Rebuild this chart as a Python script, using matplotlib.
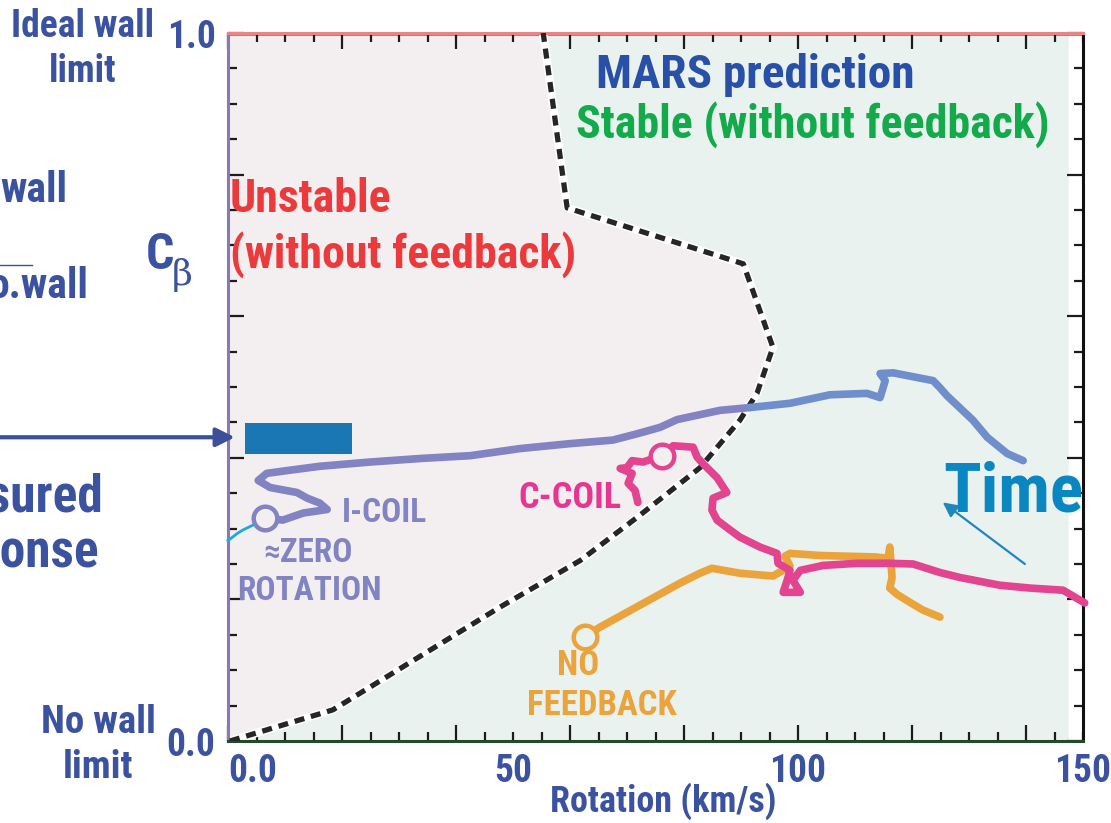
import os
import matplotlib
matplotlib.use('Agg')
import matplotlib.pyplot as plt
import numpy as np
from matplotlib import font_manager
from matplotlib.font_manager import FontProperties
from matplotlib.patches import Rectangle
from matplotlib.textpath import TextPath

# --- data (rotation km/s, C_beta) ---
# MARS stability boundary
bnd_x = [0.35, 18.4, 26.1, 47.7, 61.8, 71.8, 82.8, 89.8, 92.8, 95.6, 90.4, 59.5, 55.3]
bnd_y = [0.0, 0.044, 0.082, 0.189, 0.255, 0.316, 0.386, 0.453, 0.491, 0.556, 0.674, 0.753, 1.0]

# I-coil feedback discharge
icoil_x = [6.5, 9.6, 13.2, 17.4, 16.1, 13.9, 12.1, 7.4, 5.3, 6.8, 10.4, 16.1, 24.9, 33.7, 42.5,
           51.2, 60.0, 67.5, 71.8, 75.8, 78.8, 86.3, 91.6,
           98.6, 105.6, 112.1, 114.4, 115.3, 114.4, 116.7, 123.7, 124.9, 126.1, 130.7, 133.2,
           136.7, 139.5]
icoil_y = [0.315, 0.312, 0.322, 0.327, 0.336, 0.343, 0.351, 0.358, 0.368, 0.378, 0.382, 0.388,
           0.394, 0.399, 0.403, 0.413, 0.420, 0.425, 0.434, 0.443, 0.454, 0.467, 0.471,
           0.477, 0.489, 0.491, 0.485, 0.509, 0.519, 0.520, 0.509, 0.499, 0.488, 0.453, 0.429,
           0.406, 0.396]
icoil_split = 23  # colour changes here

# C-coil feedback discharge
ccoil_x = [71.9, 71.4, 70.2, 70.9, 68.8, 70.0, 70.9, 72.8, 76.1, 78.1, 81.6, 82.3, 83.3, 85.8,
           87.5, 85.1, 84.9, 85.8, 88.1, 89.8, 93.3, 96.3, 96.5, 98.6, 98.1, 97.4, 100.4, 99.1,
           100.4, 104.4, 110.4, 116.1, 120.2, 124.9, 128.4, 135.4, 140.7, 146.5, 150.3]
ccoil_y = [0.337, 0.354, 0.364, 0.378, 0.385, 0.386, 0.396, 0.394, 0.403, 0.417, 0.415, 0.401,
           0.392, 0.372, 0.351, 0.343, 0.326, 0.312, 0.298, 0.288, 0.274, 0.265, 0.251, 0.241,
           0.227, 0.210, 0.210, 0.227, 0.241, 0.248, 0.251, 0.251, 0.250, 0.238, 0.231, 0.220,
           0.216, 0.213, 0.195]
ccoil_mark = (76.1, 0.403)

# no feedback discharge
nofb_x = [62.6, 65.3, 72.3, 79.3, 82.8, 84.9, 89.8, 95.6, 98.6, 97.7, 98.6, 103.9, 113.5, 115.8,
          116.1, 116.5, 116.1, 117.4, 119.6, 121.9, 124.9]
nofb_y = [0.147, 0.161, 0.192, 0.223, 0.237, 0.244, 0.237, 0.233, 0.247, 0.261, 0.265, 0.262,
          0.260, 0.258, 0.274, 0.231, 0.216, 0.207, 0.196, 0.185, 0.175]

# measured response bar and small cyan trace
meas_level = 0.429
meas_bar_x = (3.0, 21.8)
meas_bar_y = (0.406, 0.449)
cyan_x = [0.0, 1.6, 2.6, 4.4]
cyan_y = [0.283, 0.293, 0.298, 0.305]

# time arrow (tail -> head)
time_tail = (139.8, 0.250)
time_head = (125.4, 0.337)

stable_xmax = 147.4
xlab_vals = [0, 50, 100, 150]
xlab_text = ['0.0', '50', '100', '150']
ylab_vals = [0, 1]
ylab_text = ['0.0', '1.0']

NAVY = '#3B52A0'
PINK_BG = '#F3EFF1'
GREEN_BG = '#E9F2EF'
C_ICOIL = '#8283C2'
C_ICOIL2 = '#6F8FCC'
C_CCOIL = '#E2448F'
C_NOFB = '#EBA33B'


# --- a narrow bold face if one is installed ---
def find_narrow():
    prefs = ['liberationsansnarrow-bold.', 'notosans-condensedbold.', 'robotocondensed-bold.',
             'opensans-condbold.', 'opensanscondensed-bold.', 'dejavusanscondensed-bold.']
    files = [f.fname for f in font_manager.fontManager.ttflist]
    try:
        files += font_manager.findSystemFonts()
    except Exception:
        pass
    for p in prefs:
        for f in files:
            if os.path.basename(f).lower().replace(' ', '').startswith(p):
                return f
    return None


path = find_narrow()
if path:
    BASE = FontProperties(fname=path)
else:
    BASE = FontProperties(family='Liberation Sans', weight='bold')

# calibrate size so that text widths match the reference
probe = TextPath((0, 0), '(without feedback)', size=33, prop=BASE).get_extents().width * 100 / 72
SCALE = min(1.0, 346 / probe)


def fp(size):
    p = BASE.copy()
    p.set_size(size * SCALE)
    return p


W, H = 1111, 823
fig = plt.figure(figsize=(W / 100, H / 100), dpi=100)
ax = fig.add_axes([228 / W, 1 - 741 / H, (1083 - 228) / W, (741 - 33) / H])
ax.set_xlim(0, 150)
ax.set_ylim(0, 1)


def ftext(px, py, s, size, **kw):
    fig.text(px / W, 1 - py / H, s, fontproperties=fp(size), va='baseline', **kw)


# regions
ax.fill_betweenx(bnd_y, 0, bnd_x, color=PINK_BG, lw=0, zorder=0)
ax.fill_betweenx(bnd_y, bnd_x, stable_xmax, color=GREEN_BG, lw=0, zorder=0)

# boundary
ax.plot(bnd_x, bnd_y, color='white', lw=6, zorder=2)
ax.plot(bnd_x, bnd_y, color='#262626', lw=3.8, dashes=(1.9, 1.3), zorder=3)

# trajectories
kw = dict(lw=5.5, solid_capstyle='round', solid_joinstyle='round', zorder=4)
ax.plot(icoil_x[:icoil_split], icoil_y[:icoil_split], color=C_ICOIL, **kw)
ax.plot(icoil_x[icoil_split - 1:], icoil_y[icoil_split - 1:], color=C_ICOIL2, **kw)
ax.plot(nofb_x, nofb_y, color=C_NOFB, **kw)
ax.plot(ccoil_x, ccoil_y, color=C_CCOIL, clip_on=False, **kw)

mk = dict(marker='o', ms=17, mew=3.2, zorder=5, ls='none')
ax.plot(icoil_x[0], icoil_y[0], mfc=PINK_BG, mec=C_ICOIL, **mk)
ax.plot(*ccoil_mark, mfc=PINK_BG, mec=C_CCOIL, **mk)
ax.plot(nofb_x[0], nofb_y[0], mfc=GREEN_BG, mec=C_NOFB, **mk)

ax.plot(cyan_x, cyan_y, color='#1BA9E1', lw=2, zorder=4, clip_on=False)
ax.add_patch(Rectangle((meas_bar_x[0], meas_bar_y[0]), meas_bar_x[1] - meas_bar_x[0],
                       meas_bar_y[1] - meas_bar_y[0], color='#1B77B3', lw=0, zorder=4))

ax.annotate('', xy=(1.2, meas_level), xycoords='data', xytext=(0, meas_level),
            textcoords=('figure fraction', 'data'), annotation_clip=False,
            arrowprops=dict(arrowstyle='-|>', color='#3B4F9A', lw=3, mutation_scale=28,
                            shrinkA=0, shrinkB=0))
ax.annotate('', xy=time_head, xytext=time_tail,
            arrowprops=dict(arrowstyle='-|>', color='#1F86BE', lw=1.6, mutation_scale=22,
                            shrinkA=0, shrinkB=0), zorder=6)

# spines / ticks
for s, c in [('left', '#8A78B0'), ('bottom', '#234A30'), ('right', '#111111'), ('top', '#E98585')]:
    ax.spines[s].set_color(c)
    ax.spines[s].set_linewidth(2.2)
ax.axhline(0.997, color='#9A84C0', lw=1.5, zorder=1)

ax.set_xticks(np.arange(0, 151, 20))
ax.set_xticks(np.arange(0, 151, 5), minor=True)
ax.set_yticks(np.arange(0, 1.001, 0.2))
ax.set_yticks(np.arange(0, 1.001, 0.05), minor=True)
ax.set_xticklabels([])
ax.set_yticklabels([])
ax.tick_params(which='both', direction='in', top=True, right=True, width=1.6, color='#1c1c1c')
ax.tick_params(which='major', length=11.5)
ax.tick_params(which='minor', length=6.5)

sx = ax.secondary_xaxis('bottom')
sx.set_xticks(xlab_vals, labels=xlab_text)
sx.tick_params(length=0, pad=9, labelcolor=NAVY)
sx.spines['bottom'].set_visible(False)
for lab in sx.get_xticklabels():
    lab.set_fontproperties(fp(27))
sx.get_xticklabels()[0].set_ha('left')

sy = ax.secondary_yaxis('left')
sy.set_yticks(ylab_vals, labels=ylab_text)
sy.tick_params(length=0, pad=9, labelcolor=NAVY)
sy.spines['left'].set_visible(False)
for lab in sy.get_yticklabels():
    lab.set_fontproperties(fp(27))

# texts
ftext(663, 812, 'Rotation (km/s)', 26, color=NAVY, ha='center')
ftext(83, 37, 'Ideal wall', 27, color=NAVY, ha='center')
ftext(83, 82, 'limit', 27, color=NAVY, ha='center')
ftext(0, 202, 'wall', 30, color=NAVY, ha='left')
ftext(88, 298, 'o.wall', 30, color=NAVY, ha='right')
fig.add_artist(plt.Line2D([0, 32 / W], [1 - 265 / H, 1 - 265 / H], color=NAVY, lw=1))
ftext(146, 269, 'C', 36, color=NAVY, ha='left')
fig.text(172 / W, 1 - 285 / H, 'β', color=NAVY, fontsize=26, ha='left', va='baseline',
         family=['DejaVu Serif'], fontweight='normal')
ftext(103, 512, 'Measured', 37, color=NAVY, ha='right')
ftext(99, 567, 'response', 37, color=NAVY, ha='right')
ftext(98, 733, 'No wall', 28, color=NAVY, ha='center')
ftext(98, 778, 'limit', 28, color=NAVY, ha='center')

ftext(230, 212, 'Unstable', 33, color='#EC3A3C', ha='left')
ftext(230, 268, '(without feedback)', 33, color='#EC3A3C', ha='left')
ftext(755, 88, 'MARS prediction', 34, color='#2850A8', ha='center')
ftext(813, 138, 'Stable (without feedback)', 33, color='#12AA4A', ha='center')

ftext(342, 522, 'I-COIL', 24, color=C_ICOIL, ha='left')
ftext(308, 562, '≈ZERO', 24, color=C_ICOIL, ha='center')
ftext(309, 600, 'ROTATION', 24, color=C_ICOIL, ha='center')
ftext(518, 508, 'C-COIL', 26, color='#E8358F', ha='left')
ftext(578, 675, 'NO', 25, color=C_NOFB, ha='center')
ftext(602, 715, 'FEEDBACK', 25, color=C_NOFB, ha='center')
ftext(1013, 512, 'Time', 50, color='#0A86C0', ha='center')

fig.savefig('out.png', dpi=100)
